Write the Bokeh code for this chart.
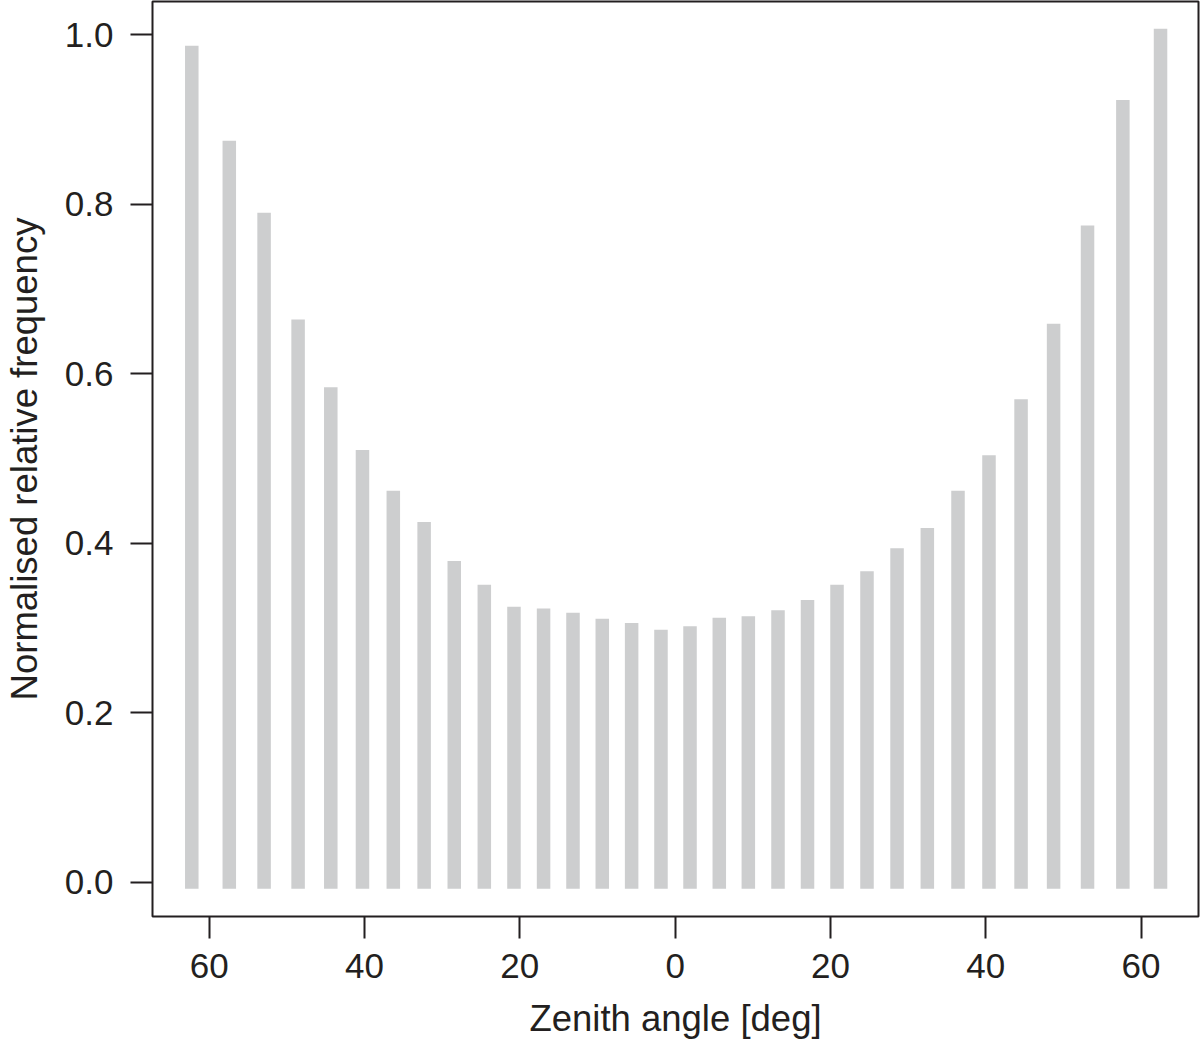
from bokeh.plotting import figure
from bokeh.models import FixedTicker, Range1d, PrintfTickFormatter
from bokeh.embed import file_html
from bokeh.resources import INLINE

# Zenith angle bin centres [deg]; negative = left half of the plot
angles = [-62.24, -57.41, -52.93, -48.55, -44.34, -40.26, -36.29, -32.32,
          -28.44, -24.57, -20.75, -16.94, -13.15, -9.38, -5.60, -1.82,
          1.92, 5.69, 9.43, 13.25, 17.05, 20.85, 24.71, 28.58,
          32.48, 36.43, 40.42, 44.55, 48.74, 53.11, 57.66, 62.51]
freq = [0.987, 0.875, 0.790, 0.664, 0.584, 0.510, 0.462, 0.425,
        0.379, 0.351, 0.325, 0.323, 0.318, 0.311, 0.306, 0.298,
        0.302, 0.312, 0.314, 0.321, 0.333, 0.351, 0.367, 0.394,
        0.418, 0.462, 0.504, 0.570, 0.659, 0.775, 0.923, 1.007]
x_ticks = [-60, -40, -20, 0, 20, 40, 60]
x_tick_labels = ["60", "40", "20", "0", "20", "40", "60"]
y_ticks = [0.0, 0.2, 0.4, 0.6, 0.8, 1.0]

FONT = "Liberation Sans"
INK = "#231f20"

p = figure(width=1200, height=1047, output_backend="svg", toolbar_location=None,
           x_range=Range1d(-67.3, 67.4), y_range=Range1d(-0.0404, 1.0393),
           min_border_left=152, min_border_right=2, min_border_top=1,
           min_border_bottom=131)

p.vbar(x=angles, top=freq, bottom=-0.0077, width=1.74,
       fill_color="#cdcecf", line_color=None)

p.xgrid.visible = False
p.ygrid.visible = False
p.background_fill_color = "white"
p.border_fill_color = "white"
p.outline_line_color = INK
p.outline_line_width = 2
p.outline_line_alpha = 1.0

p.xaxis.ticker = FixedTicker(ticks=x_ticks)
p.xaxis.major_label_overrides = {t: l for t, l in zip(x_ticks, x_tick_labels)}
p.yaxis.ticker = FixedTicker(ticks=y_ticks)
p.yaxis.formatter = PrintfTickFormatter(format="%.1f")

p.xaxis.axis_label = "Zenith angle [deg]"
p.yaxis.axis_label = "Normalised relative frequency"

for ax in (p.xaxis[0], p.yaxis[0]):
    ax.axis_line_color = None
    ax.major_tick_line_color = INK
    ax.major_tick_line_width = 2
    ax.major_tick_out = 22
    ax.major_tick_in = 0
    ax.minor_tick_line_color = None
    ax.major_label_text_font = FONT
    ax.major_label_text_font_size = "35px"
    ax.major_label_text_color = INK
    ax.axis_label_text_font = FONT
    ax.axis_label_text_font_size = "36.5px"
    ax.axis_label_text_font_style = "normal"
    ax.axis_label_text_color = INK

p.xaxis.major_label_standoff = 15
p.xaxis.axis_label_standoff = 17
p.yaxis.major_label_standoff = 17
p.yaxis.axis_label_standoff = 17
p.yaxis.major_label_orientation = "horizontal"

open("out.html", "w").write(file_html(p, INLINE))
